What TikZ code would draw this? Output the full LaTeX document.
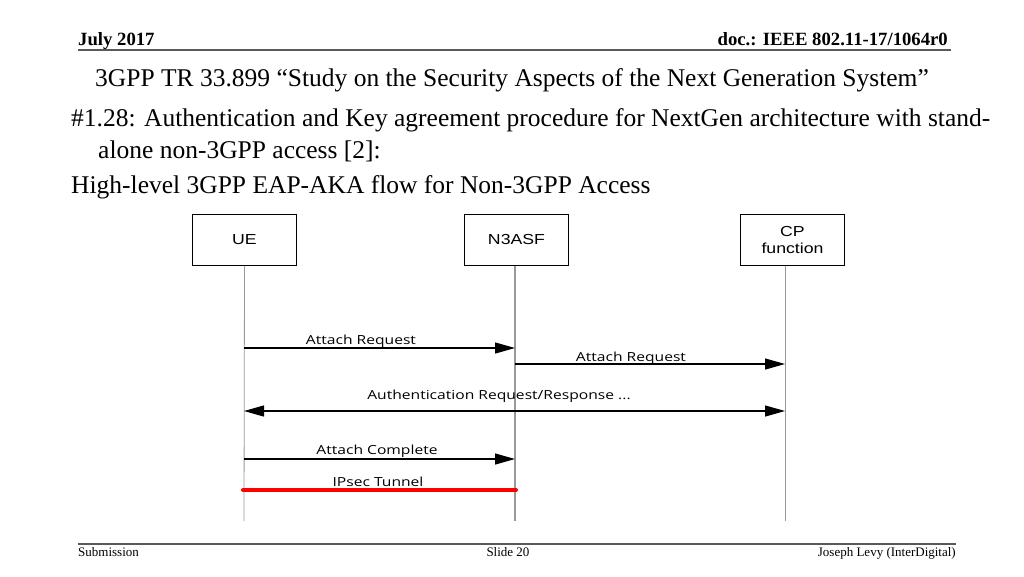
\documentclass[tikz,border=0pt]{standalone}
\usepackage{fontspec}
\setmainfont{Liberation Serif}
\newfontfamily\boxfont[FakeStretch=1.22]{Liberation Sans}
\newfontfamily\msgfont[FakeStretch=1.25]{Open Sans}
\usetikzlibrary{arrows.meta}
\begin{document}
\begin{tikzpicture}[x=1pt,y=-1pt,
  hdr/.style={font=\fontsize{18.7}{20}\selectfont\bfseries, inner sep=0pt},
  ttl/.style={font=\fontsize{25.5}{28}\selectfont, inner sep=0pt, anchor=base west},
  ftr/.style={font=\fontsize{13}{15}\selectfont, inner sep=0pt, anchor=base},
  actor/.style={draw, line width=0.8pt, minimum width=104pt, minimum height=51pt, inner sep=0pt, align=center, font=\boxfont\fontsize{14.5}{17}\selectfont},
  life/.style={draw=gray!80, line width=0.8pt},
  msg/.style={line width=1.2pt, -{Triangle[length=20pt,width=11pt]}},
  dmsg/.style={line width=1.2pt, {Triangle[length=20pt,width=11pt]}-{Triangle[length=20pt,width=11pt]}},
  lbl/.style={font=\msgfont\fontsize{12.5}{14}\selectfont, inner sep=0pt, anchor=base}]
\useasboundingbox (0,0) rectangle (1024,576);
% header
\node[hdr, anchor=base west] (date) at (78,45) {July 2017};
\node[hdr, anchor=base east] (doc) at (948,45) {doc.: IEEE 802.11-17/1064r0};
\coordinate (h1) at (78,50); \coordinate (h2) at (951,50);
\draw[gray!70!black, line width=1.6pt] (h1) -- (h2);
% titles
\node[ttl] (t1) at (95,86) {3GPP TR 33.899 “Study on the Security Aspects of the Next Generation System”};
\node[ttl] (t2) at (71,126) {\#1.28: Authentication and Key agreement procedure for NextGen architecture with stand-};
\node[ttl] (t3) at (98,158) {alone non-3GPP access [2]:};
\node[ttl] (t4) at (71,193) {High-level 3GPP EAP-AKA flow for Non-3GPP Access};
% actors
\node[actor] (ue) at (244.5,240) {UE};
\node[actor] (n3) at (516.5,240) {N3ASF};
\node[actor] (cp) at (792.5,240) {CP\\function};
\coordinate (ueE) at (244,521);
\coordinate (n3T) at (515,265.5); \coordinate (n3E) at (515,521);
\coordinate (cpT) at (785,265.5); \coordinate (cpE) at (785,521);
\draw[life] (ue.south) -- (ueE);
\draw[life, line width=1.3pt] (n3T) -- (n3E);
\draw[life] (cpT) -- (cpE);
% messages
\coordinate (a1s) at (244,348); \coordinate (a1e) at (515,348);
\draw[msg] (a1s) -- (a1e);
\node[lbl] (l1) at (361,344) {Attach Request};
\coordinate (a2s) at (515,364); \coordinate (a2e) at (785,364);
\draw[msg] (a2s) -- (a2e);
\node[lbl] (l2) at (631,361) {Attach Request};
\coordinate (a3s) at (244,411); \coordinate (a3e) at (785,411);
\draw[dmsg] (a3s) -- (a3e);
\node[lbl] (l3) at (499,399) {Authentication Request/Response ...};
\coordinate (a4s) at (244,459); \coordinate (a4e) at (515,459);
\draw[msg] (a4s) -- (a4e);
\node[lbl] (l4) at (377,454) {Attach Complete};
\coordinate (a5s) at (243,490); \coordinate (a5e) at (516,490);
\draw[red, line width=4pt, line cap=round] (a5s) -- (a5e);
\node[lbl] (l5) at (378,486) {IPsec Tunnel};
% footer
\coordinate (f1) at (78,544); \coordinate (f2) at (956,544);
\draw[gray!70!black, line width=1.6pt] (f1) -- (f2);
\node[ftr, anchor=base west] (sub) at (78,556) {Submission};
\node[ftr] (sl) at (508,556) {Slide 20};
\node[ftr, anchor=base east] (auth) at (956,556) {Joseph Levy (InterDigital)};
\end{tikzpicture}
\end{document}
